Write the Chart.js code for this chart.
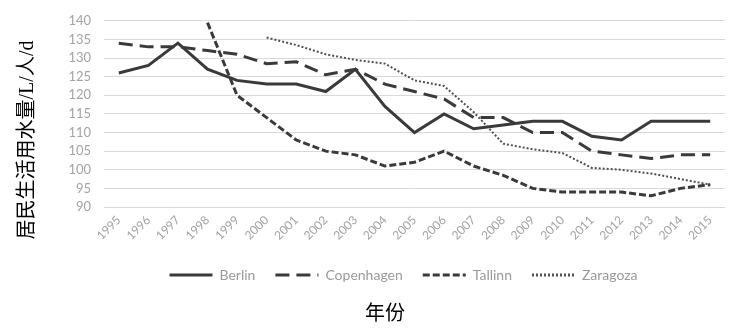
<!DOCTYPE html>
<html><head><meta charset="utf-8">
<script src="https://cdn.jsdelivr.net/npm/chart.js@4/dist/chart.umd.min.js"></script>
<style>html,body{margin:0;padding:0;background:#fff}#wrap{width:729px;height:332px;position:relative}</style>
</head><body><div id="wrap"><canvas id="c"></canvas></div>
<script>
const years = ['1995','1996','1997','1998','1999','2000','2001','2002','2003','2004','2005','2006','2007','2008','2009','2010','2011','2012','2013','2014','2015'];
const berlin = [126,128,134,127,124,123,123,121,127,117,110,115,111,112,113,113,109,108,113,113,113];
const copenhagen = [134,133,133,132,131,128.5,129,125.5,127,123,121,119,114,114,110,110,105,104,103,104,104];
const tallinn = [null,null,null,139.5,120,114,108,105,104,101,102,105,101,98.5,95,94,94,94,93,95,96];
const zaragoza = [null,null,null,null,null,135.5,133.5,131,129.5,128.5,124,122.5,115.5,107,105.5,104.5,100.5,100,99,97.5,96];
const yTicks = [90,95,100,105,110,115,120,125,130,135,140];
const seriesNames = ['Berlin','Copenhagen','Tallinn','Zaragoza'];
const yTitle = '居民生活用水量/L/人/d';
const xTitle = '年份';

const placeBoxes = {
  id: 'placeBoxes',
  afterLayout(chart, args, opts) {
    for (const b of chart.boxes) {
      let t = null;
      if (b === chart.legend) t = opts.legend;
      else if (b === chart.titleBlock) t = opts.title;
      else if (b.options && b.options.text === xTitle) t = opts.subtitle;
      if (!t) continue;
      const dx = t.cx != null ? t.cx - (b.left + b.right) / 2 : 0;
      const dy = t.cy != null ? t.cy - (b.top + b.bottom) / 2 : 0;
      b.left += dx; b.right += dx; b.top += dy; b.bottom += dy;
    }
  }
};

const lineColor = '#3a3a3a';
const tickColor = '#a3a3a3';

new Chart(document.getElementById('c'), {
  type: 'line',
  data: {
    labels: years,
    datasets: [
      {label: seriesNames[0], data: berlin, borderColor: lineColor, backgroundColor: lineColor, borderWidth: 3},
      {label: seriesNames[1], data: copenhagen, borderColor: lineColor, backgroundColor: lineColor, borderWidth: 3, borderDash: [14, 7]},
      {label: seriesNames[2], data: tallinn, borderColor: lineColor, backgroundColor: lineColor, borderWidth: 3, borderDash: [7, 3]},
      {label: seriesNames[3], data: zaragoza, borderColor: '#505050', backgroundColor: '#505050', borderWidth: 2, borderDash: [2, 2]}
    ]
  },
  options: {
    responsive: true,
    maintainAspectRatio: false,
    animation: false,
    devicePixelRatio: 1,
    layout: {padding: {top: 19, right: 4, bottom: 7, left: 0}},
    elements: {point: {radius: 0, hoverRadius: 0}, line: {tension: 0, borderCapStyle: 'butt'}},
    scales: {
      x: {
        offset: true,
        grid: {display: false, drawTicks: false},
        border: {display: false},
        ticks: {color: tickColor, font: {family: 'Lato', size: 12}, minRotation: 45, maxRotation: 45, autoSkip: false, padding: 6},
        afterFit(s) { s.height = 42; }
      },
      y: {
        min: 90, max: 140,
        afterBuildTicks(s) { s.ticks = yTicks.map(v => ({value: v})); },
        grid: {color: '#d9d9d9', lineWidth: 1, drawTicks: false},
        border: {display: false},
        ticks: {color: tickColor, font: {family: 'Lato', size: 13}, padding: 13},
        afterFit(s) { s.width = 36; }
      }
    },
    plugins: {
      legend: {
        position: 'bottom',
        labels: {
          usePointStyle: true, pointStyle: 'line', pointStyleWidth: 43, color: '#9a9a9a',
          font: {family: 'Lato', size: 14}, padding: 20,
          generateLabels(chart) {
            const items = Chart.defaults.plugins.legend.labels.generateLabels(chart);
            return items.map(it => {
              const ds = chart.data.datasets[it.datasetIndex];
              it.lineDash = ds.borderDash || [];
              it.lineWidth = ds.borderWidth === 2 ? 3 : ds.borderWidth;
              it.strokeStyle = ds.borderColor;
              it.pointStyle = 'line';
              return it;
            });
          }
        }
      },
      title: {
        display: true, text: yTitle, position: 'left', color: '#000',
        font: {family: "'Liberation Serif','Noto Sans CJK SC'", size: 20, weight: 'normal'},
        padding: {top: 15.5, bottom: 28.5}
      },
      subtitle: {
        display: true, text: xTitle, position: 'bottom', color: '#000',
        font: {family: "'Noto Sans CJK SC'", size: 20, weight: 'normal'},
        padding: {top: 4, bottom: 4}
      },
      tooltip: {enabled: false},
      placeBoxes: {legend: {cx: 403.5, cy: 270}, title: {cy: 140}, subtitle: {cx: 385, cy: 312}}
    }
  },
  plugins: [placeBoxes]
});
</script></body></html>
